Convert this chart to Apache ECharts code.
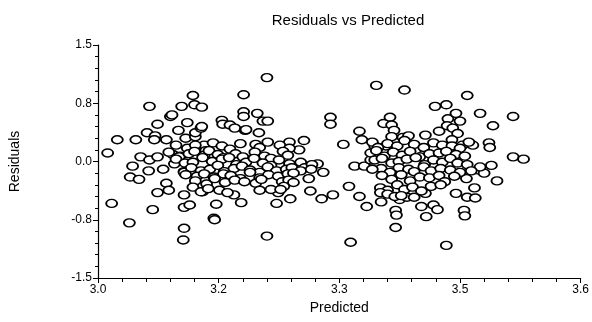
<!DOCTYPE html>
<html>
<head>
<meta charset="utf-8">
<script src="https://cdn.jsdelivr.net/npm/echarts@6/dist/echarts.min.js"></script>
<style>html,body{margin:0;padding:0;background:#fff;}#c{width:592px;height:322px;}</style>
</head>
<body>
<div id="c"></div>
<script>
// Predicted values (x) and residuals (y)
const predicted = [
3.012,3.024,3.017,3.039,3.043,3.040,3.051,3.047,3.053,3.061,3.064,3.064,3.063,3.068,3.074,3.074,3.074,3.071,3.070,3.081,
3.085,3.085,3.088,3.090,3.092,3.093,3.095,3.097,3.100,3.102,3.104,3.107,3.107,3.107,3.106,3.107,3.109,3.111,3.114,3.118,
3.120,3.121,3.121,3.128,3.129,3.129,3.130,3.132,3.147,3.144,3.145,3.154,3.155,3.164,3.170,3.169,3.178,3.181,3.181,3.181,
3.183,3.184,3.177,3.198,3.200,3.205,3.211,3.210,3.210,3.222,3.224,3.239,3.238,3.256,3.250,3.264,3.273,3.278,3.280,3.292,
3.289,3.289,3.305,
3.111,3.121,3.134,3.143,3.154,3.164,3.196,3.201,3.211,3.226,3.238,
3.088,3.101,3.113,3.120,3.132,3.138,3.149,3.156,3.171,3.180,3.195,3.207,3.215,3.230,3.236,
3.097,3.108,3.118,3.130,3.142,3.154,3.163,3.172,3.184,3.194,3.205,3.215,3.225,3.238,3.252,3.257,3.266,
3.107,3.116,3.128,3.139,3.149,3.157,3.169,3.179,3.189,3.201,3.211,3.222,3.234,3.241,3.252,3.265,
3.109,3.123,3.132,3.144,3.156,3.165,3.177,3.189,3.201,3.212,3.224,3.236,3.243,3.262,
3.121,3.135,3.145,3.158,3.170,3.182,3.196,3.203,3.229,3.237,3.231,3.243,
3.118,3.128,3.137,3.151,3.161,3.201,3.215,3.227,
3.312,3.314,3.319,3.325,3.325,3.328,3.331,3.334,3.339,3.344,3.346,3.352,3.355,3.352,3.358,3.363,3.365,3.370,3.371,3.370,
3.368,3.375,3.379,3.381,3.386,3.384,3.393,3.395,3.402,3.407,3.408,3.419,3.417,3.422,3.424,3.433,3.433,3.435,3.434,3.441,
3.445,3.445,3.447,3.450,3.453,3.455,3.456,3.458,3.459,3.459,3.466,3.468,3.469,3.473,3.475,3.480,3.486,3.487,3.491,3.489,
3.496,3.516,3.516,3.529,
3.365,3.407,3.440,
3.341,3.348,3.360,3.372,3.381,3.393,3.405,3.417,3.428,3.440,3.450,3.461,
3.339,3.346,3.356,3.367,3.378,3.388,3.400,3.412,3.424,3.433,3.445,3.456,
3.344,3.353,3.365,3.374,3.384,3.395,3.406,3.417,3.428,3.438,3.447,3.459,3.475,
3.341,3.363,3.374,3.386,3.393,3.405,3.414,3.426,3.438,3.450,3.464,
3.353,3.365,3.377,3.388,3.400,3.412,3.424,3.431,3.443,
3.351,3.360,3.372,3.381,3.391,3.402,3.414,3.426,3.351,3.360,3.369,3.377
];
const residuals = [
0.11,0.28,-0.54,-0.79,-0.06,-0.20,-0.23,0.28,0.06,0.37,0.71,0.02,-0.12,-0.62,0.48,0.06,-0.40,0.33,0.28,-0.10,
0.28,-0.28,-0.37,0.58,0.60,0.09,-0.03,0.21,0.40,0.07,0.71,-0.43,-0.59,-0.86,-1.01,-0.13,0.30,0.50,-0.56,0.85,
0.73,0.32,0.37,0.43,0.70,0.45,-0.39,0.21,-0.55,-0.73,-0.75,0.53,0.48,0.47,0.43,-0.43,-0.53,0.86,0.64,0.58,
0.40,0.41,0.23,0.62,0.37,0.52,0.52,1.08,-0.96,-0.54,-0.40,-0.48,0.25,0.27,0.15,-0.38,-0.03,-0.48,-0.14,-0.43,
0.57,0.48,0.22,
0.17,0.21,0.14,0.24,0.20,0.16,0.22,0.18,0.25,0.21,0.17,
0.12,0.06,0.10,0.13,0.08,0.14,0.09,0.05,0.10,0.06,0.12,0.07,0.04,0.13,0.08,
0.03,-0.02,-0.01,0.05,0.00,0.03,0.05,-0.04,-0.01,0.04,-0.02,-0.05,0.02,-0.03,-0.01,-0.08,-0.04,
-0.14,-0.08,-0.12,-0.10,-0.05,-0.13,-0.09,-0.06,-0.11,-0.14,-0.07,-0.12,-0.10,-0.08,-0.12,-0.10,
-0.17,-0.19,-0.16,-0.20,-0.16,-0.18,-0.22,-0.14,-0.21,-0.17,-0.19,-0.16,-0.15,-0.22,
-0.25,-0.29,-0.22,-0.27,-0.24,-0.26,-0.28,-0.23,-0.26,-0.24,-0.32,-0.27,
-0.33,-0.39,-0.35,-0.37,-0.40,-0.37,-0.36,-0.36,
-0.32,-1.04,-0.06,0.39,-0.45,0.28,-0.06,-0.58,0.02,0.20,0.98,-0.09,0.49,-0.52,0.20,0.57,0.47,-0.63,-0.69,-0.85,
0.40,-0.49,0.31,0.92,0.33,-0.46,-0.46,0.15,-0.58,-0.41,-0.71,0.71,-0.56,-0.62,0.39,0.73,-1.08,0.55,0.46,0.43,
0.62,-0.41,0.36,0.52,0.21,-0.63,-0.70,-0.22,-0.46,0.85,0.21,-0.34,-0.47,-0.11,0.62,-0.15,0.24,0.18,0.46,-0.05,
-0.25,0.58,0.06,0.03,
0.32,0.34,0.28,
0.25,0.18,0.23,0.20,0.27,0.22,0.18,0.24,0.21,0.20,0.17,0.25,
0.11,0.14,0.07,0.12,0.08,0.13,0.06,0.10,0.11,0.13,0.09,0.07,
0.02,0.04,-0.02,0.00,0.03,0.05,-0.04,0.02,-0.01,0.04,-0.02,-0.04,-0.07,
-0.10,-0.14,-0.08,-0.10,-0.13,-0.07,-0.12,-0.09,-0.11,-0.14,-0.12,
-0.18,-0.23,-0.17,-0.25,-0.20,-0.21,-0.18,-0.26,-0.19,
-0.34,-0.37,-0.30,-0.36,-0.33,-0.38,-0.32,-0.30,-0.40,-0.42,-0.45,-0.44
];
const xTickLabels = ['3.0','3.2','3.3','3.5','3.6'];
const yTickLabels = ['-1.5','-0.8','0.0','0.8','1.5'];

const points = predicted.map((x, i) => [x, residuals[i]]);
const font = '"Liberation Sans", Arial, sans-serif';
const chart = echarts.init(document.getElementById('c'), null, {renderer: 'canvas'});
chart.setOption({
  animation: false,
  backgroundColor: '#fff',
  title: {
    text: 'Residuals vs Predicted',
    left: 343, top: 8, textAlign: 'center',
    textStyle: {fontFamily: font, fontSize: 15, fontWeight: 'normal', color: '#000'}
  },
  grid: {left: 97, right: 9, top: 45, bottom: 44, containLabel: false},
  xAxis: {
    type: 'value', min: 3.0, max: 3.6, interval: 0.15,
    name: 'Predicted', nameLocation: 'middle', nameGap: 23,
    nameTextStyle: {fontFamily: font, fontSize: 14, color: '#000'},
    axisLine: {onZero: false, lineStyle: {color: '#000', width: 1.2}},
    axisTick: {show: true, length: 5, lineStyle: {color: '#000'}},
    minorTick: {show: true, splitNumber: 5, length: 4, lineStyle: {color: '#000'}},
    splitLine: {show: false},
    axisLabel: {fontFamily: font, fontSize: 12, color: '#000', margin: 6,
      formatter: (v, i) => xTickLabels[i]}
  },
  yAxis: {
    type: 'value', min: -1.5, max: 1.5, interval: 0.75,
    name: 'Residuals', nameLocation: 'middle', nameGap: 76, nameRotate: 90,
    nameTextStyle: {fontFamily: font, fontSize: 14, color: '#000'},
    axisLine: {onZero: false, lineStyle: {color: '#000', width: 1.2}},
    axisTick: {show: true, length: 5, lineStyle: {color: '#000'}},
    minorTick: {show: true, splitNumber: 5, length: 3, lineStyle: {color: '#000'}},
    splitLine: {show: false},
    axisLabel: {fontFamily: font, fontSize: 12, color: '#000', margin: 6,
      formatter: (v, i) => yTickLabels[i]}
  },
  series: [{
    type: 'scatter',
    data: points,
    symbol: 'circle',
    symbolSize: [11, 8],
    itemStyle: {color: '#fff', borderColor: '#000', borderWidth: 1.6, opacity: 1}
  }]
});
</script>
</body>
</html>
